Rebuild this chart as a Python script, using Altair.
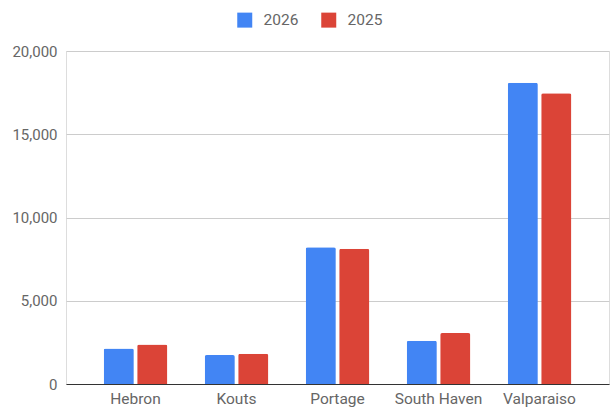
import altair as alt
import pandas as pd

cities = ["Hebron", "Kouts", "Portage", "South Haven", "Valparaiso"]
v2026 = [2130, 1740, 8220, 2600, 18100]
v2025 = [2370, 1820, 8130, 3060, 17460]
years = ["2026", "2025"]
colors = ["#4285F4", "#DB4437"]

rows = []
for i, c in enumerate(cities):
    rows.append({"city": c, "year": "2026", "value": v2026[i]})
    rows.append({"city": c, "year": "2025", "value": v2025[i]})
df = pd.DataFrame(rows)

FONT = "Roboto"
TXT = "#666666"

chart = alt.Chart(df).mark_bar(cornerRadiusTopLeft=2, cornerRadiusTopRight=2).encode(
    x=alt.X("city:N", sort=cities, title=None,
            scale=alt.Scale(paddingInner=0.37, paddingOuter=0.373),
            axis=alt.Axis(labelAngle=0, ticks=False, domainColor="#333333", domainWidth=1,
                          labelFont=FONT, labelFontSize=15.5, labelColor=TXT,
                          labelPadding=7, grid=False)),
    xOffset=alt.XOffset("year:N", sort=years, scale=alt.Scale(domain=years, paddingInner=0.1)),
    y=alt.Y("value:Q", title=None,
            scale=alt.Scale(domain=[0, 20000], nice=False),
            axis=alt.Axis(values=[0, 5000, 10000, 15000, 20000], format=",d",
                          domain=False, ticks=False, gridColor="#cccccc",
                          labelFont=FONT, labelFontSize=15, labelColor=TXT,
                          labelPadding=9)),
    color=alt.Color("year:N", scale=alt.Scale(domain=years, range=colors),
                    legend=alt.Legend(title=None, orient="none", direction="horizontal",
                                      legendX=171, legendY=-39, symbolType="square",
                                      symbolSize=225, symbolStrokeWidth=0,
                                      labelFont=FONT, labelFontSize=15.5, labelColor=TXT,
                                      columnPadding=22, labelOffset=11)),
).properties(
    width=543, height=333,
    autosize=alt.AutoSizeParams(type="none"),
    padding={"left": 66, "top": 51, "right": 2, "bottom": 25},
).configure_view(stroke=None).configure(background="white")

chart.save("out.html", embed_options={"renderer": "svg", "actions": False})
